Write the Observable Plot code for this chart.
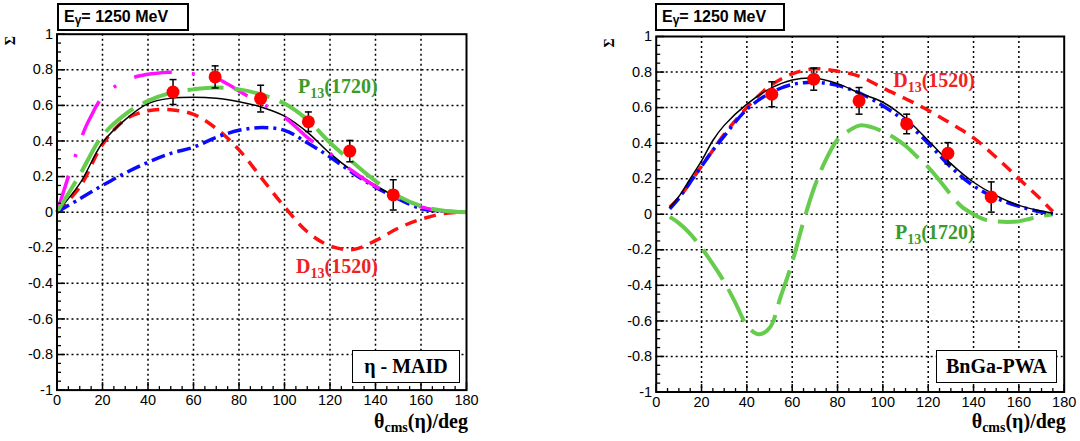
<!DOCTYPE html>
<html><head><meta charset="utf-8">
<script src="https://cdn.jsdelivr.net/npm/d3@7"></script>
<script src="https://cdn.jsdelivr.net/npm/@observablehq/plot@0.6"></script>
<style>
body{margin:0;background:#fff;width:1080px;height:441px;overflow:hidden;position:relative;font-family:"Liberation Sans",Arial,sans-serif}
.panel{position:absolute;top:0}
.ebox{position:absolute;border:2px solid #000;background:#fff;font:bold 16px "Liberation Sans",Arial,sans-serif;box-sizing:border-box;padding-left:5px;line-height:24px;white-space:nowrap}
.ebox sub{font-size:12px;vertical-align:-2px;line-height:0}
.mbox{position:absolute;border:1px solid #000;background:#fff;font:bold 20px "Liberation Serif","Times New Roman",serif;box-sizing:border-box;text-align:center;line-height:31px;white-space:nowrap}
</style></head><body>
<div id="left" class="panel" style="left:0"></div>
<div id="right" class="panel" style="left:540px"></div>
<div class="ebox" style="left:57px;top:3px;width:132px;height:28px">E<sub>γ</sub>= 1250 MeV</div>
<div class="ebox" style="left:655px;top:3px;width:130px;height:28px">E<sub>γ</sub>= 1250 MeV</div>
<div class="mbox" style="left:352px;top:350px;width:108px;height:33px">η - MAID</div>
<div class="mbox" style="left:936px;top:350px;width:121px;height:33px">BnGa-PWA</div>
<script>
// ---- axes ----
const xMajor = [0, 20, 40, 60, 80, 100, 120, 140, 160, 180];
const xMinor = [5, 10, 15, 25, 30, 35, 45, 50, 55, 65, 70, 75, 85, 90, 95, 105, 110, 115, 125, 130, 135, 145, 150, 155, 165, 170, 175];
const yMajor = [-1, -0.8, -0.6, -0.4, -0.2, 0, 0.2, 0.4, 0.6, 0.8, 1];
const yMinor = [-0.95, -0.9, -0.85, -0.75, -0.7, -0.65, -0.55, -0.5, -0.45, -0.35, -0.3, -0.25, -0.15, -0.1, -0.05, 0.05, 0.1, 0.15, 0.25, 0.3, 0.35, 0.45, 0.5, 0.55, 0.65, 0.7, 0.75, 0.85, 0.9, 0.95];
const xGrid = [20, 40, 60, 80, 100, 120, 140, 160];
const yGrid = [-0.8, -0.6, -0.4, -0.2, 0, 0.2, 0.4, 0.6, 0.8];

// ---- measured data (same in both panels) ----
const dataTheta = [51, 69.5, 89.5, 110.5, 128.7, 147.8];
const dataSigma = [0.675, 0.76, 0.638, 0.508, 0.343, 0.097];
const dataErr   = [0.07, 0.062, 0.075, 0.055, 0.06, 0.085];

// ---- left panel: eta-MAID ----
const maidTheta    = [0, 10, 20, 30, 40, 50, 60, 70, 80, 90, 100, 110, 120, 130, 140, 150, 160, 170, 180];
const maidFull     = [0, 0.16, 0.39, 0.52, 0.61, 0.64, 0.646, 0.64, 0.62, 0.59, 0.54, 0.45, 0.33, 0.23, 0.15, 0.08, 0.03, 0.01, 0];
const maidP13      = [0, 0.21, 0.43, 0.55, 0.625, 0.67, 0.69, 0.70, 0.69, 0.66, 0.61, 0.52, 0.39, 0.28, 0.175, 0.09, 0.035, 0.008, 0];
const maidD13      = [0, 0.14, 0.38, 0.52, 0.57, 0.575, 0.55, 0.47, 0.35, 0.19, 0.03, -0.11, -0.19, -0.21, -0.16, -0.09, -0.04, -0.008, 0];
const maidBlue     = [0, 0.075, 0.15, 0.22, 0.28, 0.33, 0.365, 0.42, 0.46, 0.475, 0.46, 0.39, 0.31, 0.22, 0.14, 0.075, 0.02, 0.005, 0];
const maidMagTheta = [0, 3, 6, 9, 12, 15, 19, 26, 34, 42, 50, 60, 69, 75, 82, 90, 98, 104, 110, 120, 130, 140, 150, 160, 170, 180];
const maidMagenta  = [0, 0.12, 0.24, 0.35, 0.46, 0.54, 0.63, 0.71, 0.758, 0.778, 0.786, 0.777, 0.758, 0.72, 0.665, 0.61, 0.553, 0.49, 0.42, 0.33, 0.23, 0.145, 0.08, 0.03, 0.006, 0];

// ---- right panel: BnGa-PWA ----
const bngaTheta = [6, 10, 15, 20, 25, 30, 40, 50, 60, 70, 80, 90, 100, 110, 120, 130, 140, 150, 160, 170, 175];
const bngaFull  = [0.04, 0.1, 0.2, 0.3, 0.415, 0.5, 0.62, 0.705, 0.755, 0.765, 0.735, 0.68, 0.63, 0.54, 0.415, 0.285, 0.18, 0.105, 0.05, 0.018, 0.005];
const bngaBlue  = [0.03, 0.09, 0.18, 0.27, 0.36, 0.44, 0.59, 0.68, 0.73, 0.742, 0.725, 0.68, 0.61, 0.52, 0.40, 0.265, 0.16, 0.09, 0.045, 0.012, 0.003];
const bngaD13   = [0.04, 0.09, 0.18, 0.27, 0.36, 0.45, 0.6, 0.72, 0.79, 0.818, 0.805, 0.775, 0.71, 0.65, 0.585, 0.51, 0.43, 0.32, 0.2, 0.08, 0.015];
const bngaP13Theta = [6, 10, 15, 20, 25, 30, 35, 40, 45, 50, 55, 60, 65, 70, 75, 80, 85, 90, 95, 100, 105, 110, 115, 120, 125, 130, 135, 140, 145, 150, 155, 160, 165, 170, 175];
const bngaP13   = [-0.015, -0.05, -0.11, -0.19, -0.28, -0.38, -0.5, -0.625, -0.675, -0.64, -0.46, -0.27, -0.04, 0.16, 0.31, 0.42, 0.47, 0.5, 0.49, 0.465, 0.43, 0.385, 0.325, 0.265, 0.19, 0.11, 0.04, 0.0, -0.03, -0.04, -0.043, -0.04, -0.025, -0.01, 0];

// ---- annotation labels (data coordinates of text start) ----
const leftLabels  = [{x: 106.2, y: 0.667, main: "P", sub: "13", rest: "(1720)", color: "#3a9a2a"},
                     {x: 105.3, y: -0.344, main: "D", sub: "13", rest: "(1520)", color: "#ee2222"}];
const rightLabels = [{x: 104.8, y: 0.712, main: "D", sub: "13", rest: "(1520)", color: "#ee2222"},
                     {x: 105.6, y: -0.142, main: "P", sub: "13", rest: "(1720)", color: "#3a9a2a"}];

const RED = "#ff1010", BLUE = "#0a0aff", GREEN = "#66cc4d", MAG = "#ff10ff";

const points = dataTheta.map((t, i) => ({t, s: dataSigma[i], e: dataErr[i]}));
const tickR = {draw(c, size) { const l = Math.sqrt(size / Math.PI); c.moveTo(0, 0); c.lineTo(l, 0); }};
const tickU = {draw(c, size) { const l = Math.sqrt(size / Math.PI); c.moveTo(0, 0); c.lineTo(0, -l); }};
const capH  = {draw(c, size) { const l = Math.sqrt(size / Math.PI); c.moveTo(-l, 0); c.lineTo(l, 0); }};
const fmt = d => String(+(+d).toFixed(1));

function panel(el, cfg) {
  const curveMarks = cfg.curves.map(c => Plot.line(c.x.map((x, i) => [x, c.y[i]]), {
    x: d => d[0], y: d => d[1], curve: "catmull-rom", stroke: c.color,
    strokeWidth: c.width, strokeDasharray: c.dash, strokeLinecap: "butt", strokeLinejoin: "round"
  }));
  const chart = Plot.plot({
    width: 540, height: 441,
    marginLeft: cfg.ml, marginRight: cfg.mr, marginTop: cfg.mt, marginBottom: cfg.mb,
    x: {domain: [0, 180], label: null},
    y: {domain: [-1, 1], label: null},
    style: {fontFamily: "'Liberation Sans', Arial, sans-serif", fontSize: "14px", color: "#000", background: "transparent", overflow: "visible"},
    marks: [
      Plot.gridX(xGrid, {stroke: "#000", strokeOpacity: 1, strokeWidth: 1.5, strokeDasharray: "2,3"}),
      Plot.gridY(yGrid, {stroke: "#000", strokeOpacity: 1, strokeWidth: 1.5, strokeDasharray: "2,3"}),
      ...curveMarks,
      Plot.ruleX(points, {x: "t", y1: d => d.s - d.e, y2: d => d.s + d.e, stroke: "#000", strokeWidth: 1.5}),
      Plot.dot(points, {x: "t", y: d => d.s + d.e, symbol: capH, r: 3.5, stroke: "#000", fill: "none", strokeWidth: 1.5}),
      Plot.dot(points, {x: "t", y: d => d.s - d.e, symbol: capH, r: 3.5, stroke: "#000", fill: "none", strokeWidth: 1.5}),
      Plot.dot(points, {x: "t", y: "s", r: 6.5, fill: "#ff0000", stroke: "none"}),
      Plot.dot(yMinor, {y: d => d, frameAnchor: "left", symbol: tickR, r: 4, stroke: "#000", fill: "none", strokeWidth: 1.3}),
      Plot.dot(yMajor, {y: d => d, frameAnchor: "left", symbol: tickR, r: 8, stroke: "#000", fill: "none", strokeWidth: 1.5}),
      Plot.dot(xMinor, {x: d => d, frameAnchor: "bottom", symbol: tickU, r: 4, stroke: "#000", fill: "none", strokeWidth: 1.3}),
      Plot.dot(xMajor, {x: d => d, frameAnchor: "bottom", symbol: tickU, r: 8, stroke: "#000", fill: "none", strokeWidth: 1.5}),
      Plot.axisY(yMajor, {tickSize: 0, tickPadding: 4, tickFormat: fmt, label: null, fontSize: 14.5}),
      Plot.axisX(xMajor, {tickSize: 0, tickPadding: 5, tickFormat: fmt, label: null, fontSize: 14.5}),
      Plot.frame({stroke: "#000", strokeWidth: 2})
    ]
  });
  el.appendChild(chart);
  const svg = d3.select(chart);
  const X = chart.scale("x"), Y = chart.scale("y");
  const serif = "'Liberation Serif', 'Times New Roman', serif";
  cfg.labels.forEach(l => {
    const t = svg.append("text").attr("x", X.apply(l.x)).attr("y", Y.apply(l.y)).attr("text-anchor", "start")
      .attr("fill", l.color).attr("font-family", serif).attr("font-weight", "bold").attr("font-size", 20);
    t.append("tspan").text(l.main);
    t.append("tspan").attr("font-size", 14).attr("dy", 5).text(l.sub);
    t.append("tspan").attr("dy", -5).text(l.rest);
  });
  // x axis title
  const xt = svg.append("text").attr("x", X.apply(180) + 2).attr("y", 428).attr("text-anchor", "end")
    .attr("font-family", serif).attr("font-weight", "bold").attr("font-size", 20).attr("fill", "#000");
  xt.append("tspan").text("θ");
  xt.append("tspan").attr("font-size", 14).attr("dy", 4).text("cms");
  xt.append("tspan").attr("dy", -4).text("(η)/deg");
  // y axis title
  svg.append("text").attr("transform", `translate(${X.apply(0) - 45},${Y.apply(1) + 7}) rotate(-90)`)
    .attr("text-anchor", "middle").attr("dominant-baseline", "middle").attr("font-family", serif).attr("font-weight", "bold")
    .attr("font-size", 14).attr("fill", "#000").text("Σ");
}

panel(document.getElementById("left"), {
  ml: 56.5, mr: 74, mt: 33.7, mb: 51.4,
  curves: [
    {x: maidTheta, y: maidD13, color: RED, width: 3.5, dash: "12,8"},
    {x: maidTheta, y: maidBlue, color: BLUE, width: 3.5, dash: "14,5,3,5"},
    {x: maidTheta, y: maidFull, color: "#000", width: 1.5, dash: null},
    {x: maidMagTheta, y: maidMagenta, color: MAG, width: 3.5, dash: "38,20,3,20"},
    {x: maidTheta, y: maidP13, color: GREEN, width: 4, dash: "36,11"}
  ],
  labels: leftLabels
});
panel(document.getElementById("right"), {
  ml: 115.7, mr: 16.3, mt: 36, mb: 49.5,
  curves: [
    {x: bngaTheta, y: bngaD13, color: RED, width: 3.5, dash: "12,8"},
    {x: bngaP13Theta, y: bngaP13, color: GREEN, width: 4, dash: "36,11"},
    {x: bngaTheta, y: bngaBlue, color: BLUE, width: 3.5, dash: "14,5,3,5"},
    {x: bngaTheta, y: bngaFull, color: "#000", width: 1.5, dash: null}
  ],
  labels: rightLabels
});
</script>
</body></html>
